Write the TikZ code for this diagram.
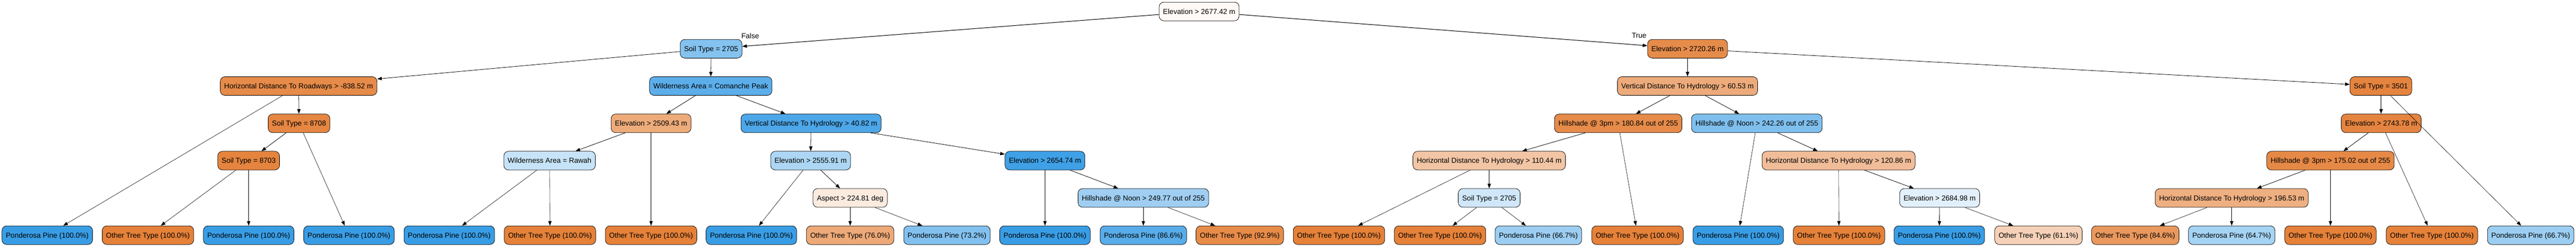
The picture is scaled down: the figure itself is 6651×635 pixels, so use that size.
\documentclass[tikz,border=0pt]{standalone}
\usepackage{fontspec}
\setmainfont{Liberation Sans}
\usetikzlibrary{arrows.meta}

\tikzset{every picture/.style={line width=0.75pt}}
\tikzset{
  split/.style={draw=black, line width=0.75pt, rounded corners=9pt, minimum height=36pt,
    inner xsep=7.5pt, inner ysep=0pt, text height=10.5pt, text depth=0.5pt,
    font=\fontsize{14pt}{16pt}\selectfont},
  pinefull/.style={split, fill={rgb, 255:red, 57; green, 157; blue, 229 }},
  otherfull/.style={split, fill={rgb, 255:red, 229; green, 129; blue, 57 }},
  branch/.style={font=\fontsize{14pt}{16pt}\selectfont, inner sep=0pt},
  link/.style={-{Triangle[length=9pt,width=6.5pt]}, line width=0.6pt},
  midlink/.style={link, line width=0.8pt},
  boldlink/.style={link, line width=1.05pt}
}

\begin{document}
\begin{tikzpicture}[x=0.75pt,y=0.75pt,yscale=-1,xscale=1]
	\useasboundingbox (0,0) rectangle (6651,635);

	%Level 0
	\node[split, fill={rgb, 255:red, 254; green, 249; blue, 246 }] (elevA) at (3096,29.5) {Elevation > 2677.42 m};
	%Level 1
	\node[split, fill={rgb, 255:red, 132; green, 194; blue, 239 }] (soilA) at (1836,125.5) {Soil Type = 2705};
	\node[split, fill={rgb, 255:red, 230; green, 140; blue, 75 }] (elevB) at (4357,125.5) {Elevation > 2720.26 m};
	%Level 2
	\node[split, fill={rgb, 255:red, 230; green, 139; blue, 73 }] (roadA) at (771,221.5) {Horizontal Distance To Roadways > -838.52 m};
	\node[split, fill={rgb, 255:red, 92; green, 174; blue, 234 }] (wildA) at (1835,221.5) {Wilderness Area = Comanche Peak};
	\node[split, fill={rgb, 255:red, 237; green, 171; blue, 123 }] (vdhB) at (4357,221.5) {Vertical Distance To Hydrology > 60.53 m};
	\node[split, fill={rgb, 255:red, 229; green, 132; blue, 63 }] (soilD) at (6147,221.5) {Soil Type = 3501};
	%Level 3
	\node[split, fill={rgb, 255:red, 229; green, 134; blue, 66 }] (soilB) at (772,317.5) {Soil Type = 8708};
	\node[split, fill={rgb, 255:red, 237; green, 171; blue, 122 }] (elevC) at (1681,317.5) {Elevation > 2509.43 m};
	\node[split, fill={rgb, 255:red, 76; green, 166; blue, 232 }] (vdhA) at (2094,317.5) {Vertical Distance To Hydrology > 40.82 m};
	\node[split, fill={rgb, 255:red, 230; green, 139; blue, 74 }] (hs3A) at (4178,317.5) {Hillshade @ 3pm > 180.84 out of 255};
	\node[split, fill={rgb, 255:red, 127; green, 191; blue, 238 }] (hsnB) at (4536,317.5) {Hillshade @ Noon > 242.26 out of 255};
	\node[split, fill={rgb, 255:red, 229; green, 132; blue, 64 }] (elevG) at (6148,317.5) {Elevation > 2743.78 m};
	%Level 4
	\node[split, fill={rgb, 255:red, 229; green, 132; blue, 62 }] (soilC) at (642,413.5) {Soil Type = 8703};
	\node[split, fill={rgb, 255:red, 199; green, 227; blue, 248 }] (wildB) at (1419,413.5) {Wilderness Area = Rawah};
	\node[split, fill={rgb, 255:red, 172; green, 214; blue, 244 }] (elevD) at (2093,413.5) {Elevation > 2555.91 m};
	\node[split, fill={rgb, 255:red, 63; green, 160; blue, 230 }] (elevE) at (2698,413.5) {Elevation > 2654.74 m};
	\node[split, fill={rgb, 255:red, 242; green, 197; blue, 165 }] (hdhA) at (3845,413.5) {Horizontal Distance To Hydrology > 110.44 m};
	\node[split, fill={rgb, 255:red, 241; green, 189; blue, 153 }] (hdhB) at (4747,413.5) {Horizontal Distance To Hydrology > 120.86 m};
	\node[split, fill={rgb, 255:red, 230; green, 137; blue, 70 }] (hs3B) at (6017,413.5) {Hillshade @ 3pm > 175.02 out of 255};
	%Level 5
	\node[split, fill={rgb, 255:red, 251; green, 235; blue, 223 }] (aspA) at (2195,509.5) {Aspect > 224.81 deg};
	\node[split, fill={rgb, 255:red, 159; green, 206; blue, 242 }] (hsnA) at (2952,509.5) {Hillshade @ Noon > 249.77 out of 255};
	\node[split, fill={rgb, 255:red, 207; green, 231; blue, 249 }] (soilE) at (3845,509.5) {Soil Type = 2705};
	\node[split, fill={rgb, 255:red, 226; green, 240; blue, 251 }] (elevF) at (5008,509.5) {Elevation > 2684.98 m};
	\node[split, fill={rgb, 255:red, 238; green, 175; blue, 129 }] (hdhC) at (5762,509.5) {Horizontal Distance To Hydrology > 196.53 m};

	%Leaves
	\node[pinefull] (leaf1) at (122,605.5) {Ponderosa Pine (100.0\%)};
	\node[otherfull] (leaf2) at (382,605.5) {Other Tree Type (100.0\%)};
	\node[pinefull] (leaf3) at (642,605.5) {Ponderosa Pine (100.0\%)};
	\node[pinefull] (leaf4) at (901,605.5) {Ponderosa Pine (100.0\%)};
	\node[pinefull] (leaf5) at (1160,605.5) {Ponderosa Pine (100.0\%)};
	\node[otherfull] (leaf6) at (1420,605.5) {Other Tree Type (100.0\%)};
	\node[otherfull] (leaf7) at (1681,605.5) {Other Tree Type (100.0\%)};
	\node[pinefull] (leaf8) at (1940,605.5) {Ponderosa Pine (100.0\%)};
	\node[split, fill={rgb, 255:red, 237; green, 169; blue, 120 }] (leaf9) at (2195,605.5) {Other Tree Type (76.0\%)};
	\node[split, fill={rgb, 255:red, 130; green, 193; blue, 239 }] (leaf10) at (2445,605.5) {Ponderosa Pine (73.2\%)};
	\node[pinefull] (leaf11) at (2698,605.5) {Ponderosa Pine (100.0\%)};
	\node[split, fill={rgb, 255:red, 88; green, 172; blue, 233 }] (leaf12) at (2952,605.5) {Ponderosa Pine (86.6\%)};
	\node[split, fill={rgb, 255:red, 231; green, 139; blue, 72 }] (leaf13) at (3201,605.5) {Other Tree Type (92.9\%)};
	\node[otherfull] (leaf14) at (3457,605.5) {Other Tree Type (100.0\%)};
	\node[otherfull] (leaf15) at (3718,605.5) {Other Tree Type (100.0\%)};
	\node[split, fill={rgb, 255:red, 156; green, 206; blue, 242 }] (leaf16) at (3972,605.5) {Ponderosa Pine (66.7\%)};
	\node[otherfull] (leaf17) at (4228,605.5) {Other Tree Type (100.0\%)};
	\node[pinefull] (leaf18) at (4488,605.5) {Ponderosa Pine (100.0\%)};
	\node[otherfull] (leaf19) at (4748,605.5) {Other Tree Type (100.0\%)};
	\node[pinefull] (leaf20) at (5007,605.5) {Ponderosa Pine (100.0\%)};
	\node[split, fill={rgb, 255:red, 246; green, 209; blue, 183 }] (leaf21) at (5263,605.5) {Other Tree Type (61.1\%)};
	\node[split, fill={rgb, 255:red, 234; green, 152; blue, 93 }] (leaf22) at (5513,605.5) {Other Tree Type (84.6\%)};
	\node[split, fill={rgb, 255:red, 165; green, 211; blue, 243 }] (leaf23) at (5762,605.5) {Ponderosa Pine (64.7\%)};
	\node[otherfull] (leaf24) at (6017,605.5) {Other Tree Type (100.0\%)};
	\node[otherfull] (leaf25) at (6279,605.5) {Other Tree Type (100.0\%)};
	\node[split, fill={rgb, 255:red, 156; green, 206; blue, 242 }] (leaf26) at (6534,605.5) {Ponderosa Pine (66.7\%)};

	%Branch labels
	\node[branch] (lblFalse) at (1937,93) {False};
	\node[branch] (lblTrue) at (4232,92) {True};

	%Edges: root and level 1
	\draw[boldlink] (elevA) -- (soilA);
	\draw[boldlink] (elevA) -- (elevB);
	\draw[midlink] (soilA) -- (roadA);
	\draw[midlink] (soilA) -- (wildA);
	\draw[midlink] (elevB) -- (vdhB);
	\draw[midlink] (elevB) -- (soilD);
	%Edges: False side
	\draw[link] (roadA) -- (leaf1);
	\draw[midlink] (roadA) -- (soilB);
	\draw[midlink] (soilB) -- (soilC);
	\draw[link] (soilB) -- (leaf4);
	\draw[link] (soilC) -- (leaf2);
	\draw[link] (soilC) -- (leaf3);
	\draw[midlink] (wildA) -- (elevC);
	\draw[midlink] (wildA) -- (vdhA);
	\draw[midlink] (elevC) -- (wildB);
	\draw[link] (elevC) -- (leaf7);
	\draw[link] (wildB) -- (leaf5);
	\draw[link] (wildB) -- (leaf6);
	\draw[midlink] (vdhA) -- (elevD);
	\draw[midlink] (vdhA) -- (elevE);
	\draw[link] (elevD) -- (leaf8);
	\draw[midlink] (elevD) -- (aspA);
	\draw[link] (aspA) -- (leaf9);
	\draw[link] (aspA) -- (leaf10);
	\draw[link] (elevE) -- (leaf11);
	\draw[midlink] (elevE) -- (hsnA);
	\draw[link] (hsnA) -- (leaf12);
	\draw[link] (hsnA) -- (leaf13);
	%Edges: True side
	\draw[midlink] (vdhB) -- (hs3A);
	\draw[midlink] (vdhB) -- (hsnB);
	\draw[midlink] (hs3A) -- (hdhA);
	\draw[link] (hs3A) -- (leaf17);
	\draw[link] (hdhA) -- (leaf14);
	\draw[midlink] (hdhA) -- (soilE);
	\draw[link] (soilE) -- (leaf15);
	\draw[link] (soilE) -- (leaf16);
	\draw[link] (hsnB) -- (leaf18);
	\draw[midlink] (hsnB) -- (hdhB);
	\draw[link] (hdhB) -- (leaf19);
	\draw[midlink] (hdhB) -- (elevF);
	\draw[link] (elevF) -- (leaf20);
	\draw[link] (elevF) -- (leaf21);
	\draw[midlink] (soilD) -- (elevG);
	\draw[link] (soilD) -- (leaf26);
	\draw[midlink] (elevG) -- (hs3B);
	\draw[link] (elevG) -- (leaf25);
	\draw[midlink] (hs3B) -- (hdhC);
	\draw[link] (hs3B) -- (leaf24);
	\draw[link] (hdhC) -- (leaf22);
	\draw[link] (hdhC) -- (leaf23);

\end{tikzpicture}
\end{document}
